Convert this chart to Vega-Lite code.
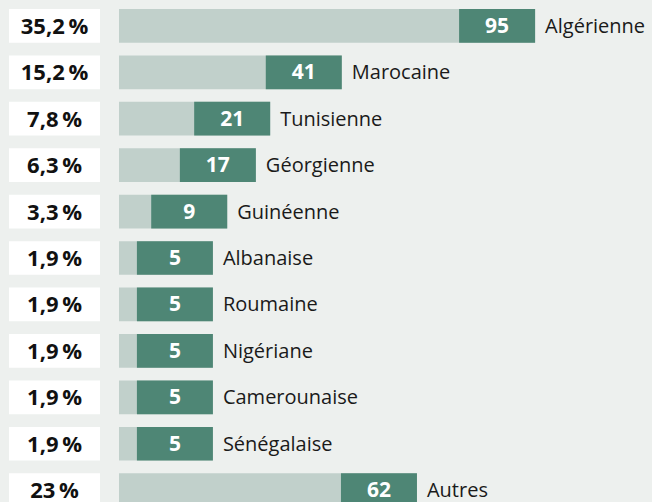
{
  "$schema": "https://vega.github.io/schema/vega-lite/v6.json",
  "width": 652,
  "height": 502,
  "autosize": "none",
  "padding": 0,
  "background": "#edf0ee",
  "config": {"view": {"stroke": null}},
  "data": {"values": [
    {"nat": "Algérienne", "n": 95, "pct": "35,2\u2009%"},
    {"nat": "Marocaine", "n": 41, "pct": "15,2\u2009%"},
    {"nat": "Tunisienne", "n": 21, "pct": "7,8\u2009%"},
    {"nat": "Géorgienne", "n": 17, "pct": "6,3\u2009%"},
    {"nat": "Guinéenne", "n": 9, "pct": "3,3\u2009%"},
    {"nat": "Albanaise", "n": 5, "pct": "1,9\u2009%"},
    {"nat": "Roumaine", "n": 5, "pct": "1,9\u2009%"},
    {"nat": "Nigériane", "n": 5, "pct": "1,9\u2009%"},
    {"nat": "Camerounaise", "n": 5, "pct": "1,9\u2009%"},
    {"nat": "\u00a0Sénégalaise", "n": 5, "pct": "1,9\u2009%"},
    {"nat": "Autres", "n": 62, "pct": "23\u2009%"}
  ]},
  "encoding": {
    "y": {"field": "nat", "type": "nominal", "sort": null, "axis": null,
          "scale": {"type": "band", "range": [2.63, 513.4], "paddingInner": 0, "paddingOuter": 0}}
  },
  "layer": [
    {
      "encoding": {
        "x": {"datum": 0, "type": "quantitative", "axis": null, "scale": {"domain": [0, 1], "range": [9, 100]}}
      },
      "layer": [
        {"mark": {"type": "bar", "color": "#ffffff", "height": 33.7},
         "encoding": {"x2": {"datum": 1}}},
        {"mark": {"type": "text", "font": "Open Sans", "fontWeight": "bold", "fontSize": 22, "color": "#111111", "align": "center", "baseline": "middle", "dx": 45.5, "dy": 1},
         "encoding": {"text": {"field": "pct"}}}
      ]
    },
    {
      "encoding": {
        "x": {"field": "n", "type": "quantitative", "axis": null, "scale": {"domain": [0, 100], "range": [119, 477]}}
      },
      "layer": [
        {"mark": {"type": "bar", "color": "#c1d0cb", "height": 33.7, "x2Offset": 76},
         "encoding": {"x": {"datum": 0, "type": "quantitative"}, "x2": {"field": "n"}}},
        {"mark": {"type": "bar", "color": "#4e8675", "height": 33.7, "x2Offset": 76},
         "encoding": {"x2": {"field": "n"}}},
        {"mark": {"type": "text", "font": "Open Sans", "fontWeight": "bold", "fontSize": 21, "color": "#ffffff", "align": "center", "baseline": "middle", "dx": 38, "dy": 1},
         "encoding": {"text": {"field": "n"}}},
        {"mark": {"type": "text", "font": "Open Sans", "fontSize": 20, "color": "#1a1a1a", "align": "left", "baseline": "middle", "dx": 86, "dy": 1},
         "encoding": {"text": {"field": "nat"}}}
      ]
    }
  ],
  "resolve": {"scale": {"x": "independent"}}
}
